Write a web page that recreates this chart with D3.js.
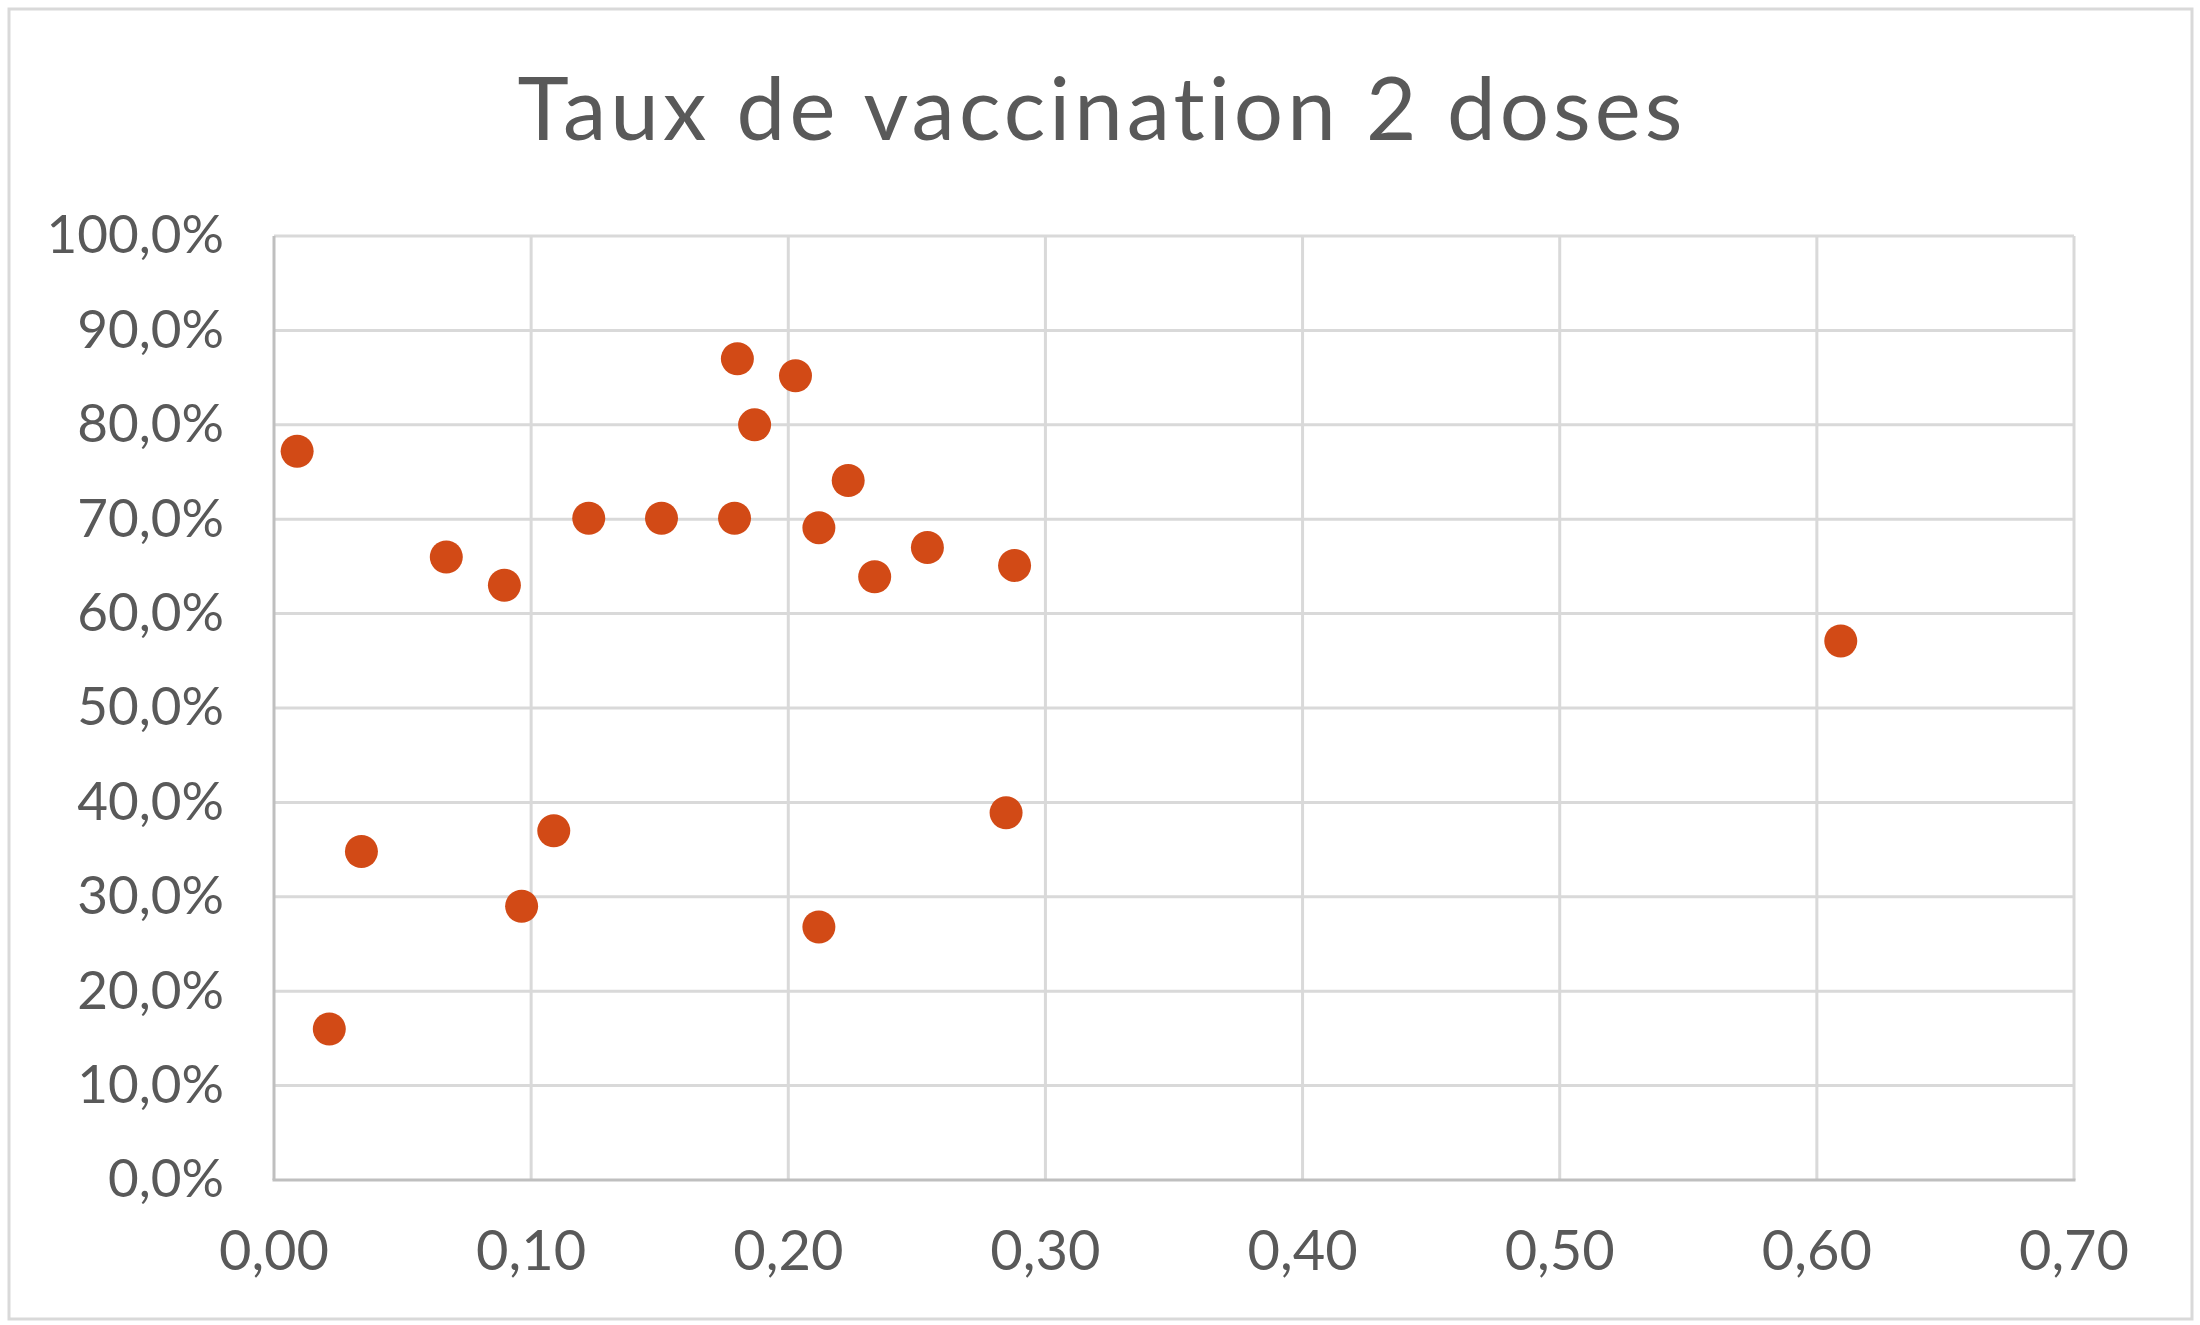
<!DOCTYPE html>
<html>
<head>
<meta charset="utf-8">
<script src="https://cdn.jsdelivr.net/npm/d3@7"></script>
<style>
  html, body { margin: 0; padding: 0; background: #ffffff; }
  svg { display: block; }
  text { font-variant-ligatures: none; font-feature-settings: "liga" 0, "clig" 0; }
</style>
</head>
<body>
<script>
// ---- Data ----
const chartTitle = "Taux de vaccination 2 doses";
const xValues = [0.009, 0.0215, 0.034, 0.067, 0.0896, 0.0963, 0.1088, 0.1224, 0.1507, 0.1791, 0.1802,
                 0.1869, 0.2028, 0.2119, 0.2119, 0.2233, 0.2336, 0.2541, 0.2847, 0.2880, 0.6093];
const yValues = [0.772, 0.160, 0.348, 0.660, 0.630, 0.290, 0.370, 0.701, 0.701, 0.701, 0.870,
                 0.800, 0.852, 0.691, 0.268, 0.741, 0.639, 0.670, 0.389, 0.651, 0.571];
const xTicks = [0, 0.1, 0.2, 0.3, 0.4, 0.5, 0.6, 0.7];
const yTicks = [0, 0.1, 0.2, 0.3, 0.4, 0.5, 0.6, 0.7, 0.8, 0.9, 1.0];

const W = 2200, H = 1325;
const plot = { left: 274, right: 2074, top: 236, bottom: 1180 };
const FONT = "Lato, 'Noto Sans', sans-serif";
const textColor = "#595959";
const gridColor = "#d9d9d9";
const axisColor = "#bfbfbf";
const dotColor = "#d24a16";

const fr = d3.formatLocale({ decimal: ",", thousands: "\u00a0", grouping: [3], currency: ["", " €"] });
const fmtY = fr.format(".1%");
const fmtX = fr.format(".2f");

const x = d3.scaleLinear().domain([0, 0.7]).range([plot.left, plot.right]);
const y = d3.scaleLinear().domain([0, 1]).range([plot.bottom, plot.top]);

const svg = d3.select("body").append("svg")
  .attr("width", W).attr("height", H)
  .attr("viewBox", `0 0 ${W} ${H}`);

svg.append("rect").attr("x", 0).attr("y", 0).attr("width", W).attr("height", H).attr("fill", "#fff");
// chart border
svg.append("rect").attr("x", 9).attr("y", 9).attr("width", 2183).attr("height", 1310)
  .attr("fill", "none").attr("stroke", gridColor).attr("stroke-width", 3);

// title
svg.append("text").attr("x", 1100).attr("y", 140)
  .attr("text-anchor", "middle")
  .attr("font-family", FONT).attr("font-size", 87).attr("fill", textColor)
  .attr("textLength", 1165).attr("lengthAdjust", "spacing")
  .text(chartTitle);

// horizontal gridlines
svg.append("g").selectAll("line").data(yTicks.filter(d => d > 0)).join("line")
  .attr("x1", plot.left).attr("x2", plot.right)
  .attr("y1", d => y(d)).attr("y2", d => y(d))
  .attr("stroke", gridColor).attr("stroke-width", 3);

// vertical gridlines
svg.append("g").selectAll("line").data(xTicks.filter(d => d > 0)).join("line")
  .attr("y1", plot.top).attr("y2", plot.bottom)
  .attr("x1", d => x(d)).attr("x2", d => x(d))
  .attr("stroke", gridColor).attr("stroke-width", 3);

// axes lines
svg.append("line").attr("x1", plot.left).attr("x2", plot.left)
  .attr("y1", plot.top).attr("y2", plot.bottom)
  .attr("stroke", axisColor).attr("stroke-width", 3);
svg.append("line").attr("x1", plot.left - 1.5).attr("x2", plot.right + 1.5)
  .attr("y1", plot.bottom).attr("y2", plot.bottom)
  .attr("stroke", axisColor).attr("stroke-width", 3);

// y labels
svg.append("g").selectAll("text").data(yTicks).join("text")
  .attr("x", 224).attr("y", d => y(d))
  .attr("dy", "0.33em")
  .attr("text-anchor", "end")
  .attr("font-family", FONT).attr("font-size", 53).attr("fill", textColor)
  .text(d => fmtY(d));

// x labels
svg.append("g").selectAll("text").data(xTicks).join("text")
  .attr("x", d => x(d)).attr("y", 1270)
  .attr("text-anchor", "middle")
  .attr("font-family", FONT).attr("font-size", 56).attr("fill", textColor)
  .text(d => fmtX(d));

// points
const pts = xValues.map((v, i) => ({ x: v, y: yValues[i] }));
svg.append("g").selectAll("circle").data(pts).join("circle")
  .attr("cx", d => x(d.x)).attr("cy", d => y(d.y))
  .attr("r", 16.5)
  .attr("fill", dotColor);
</script>
</body>
</html>
